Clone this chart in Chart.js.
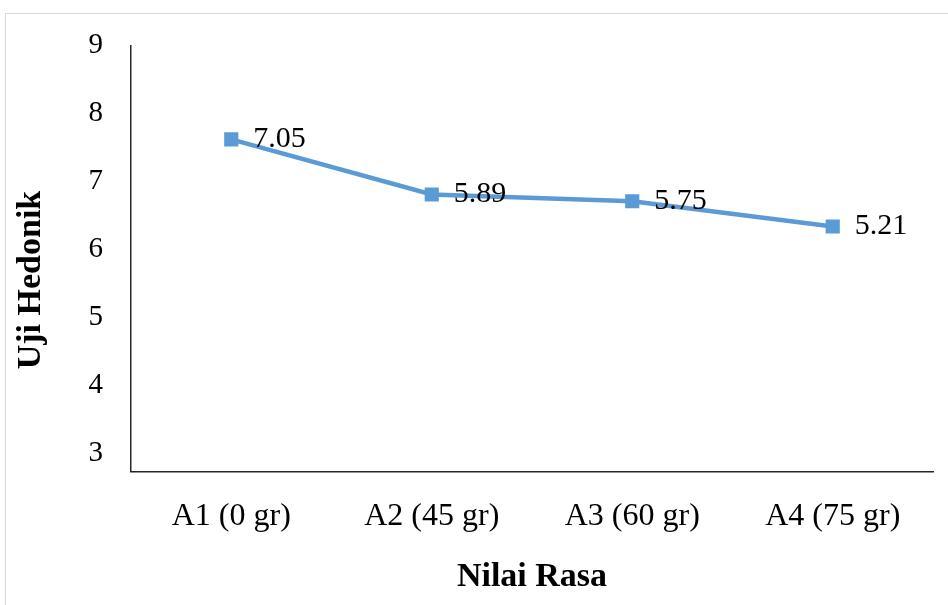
<!DOCTYPE html>
<html>
<head>
<meta charset="utf-8">
<script src="https://cdn.jsdelivr.net/npm/chart.js@4.4.0/dist/chart.umd.min.js"></script>
<style>
  html, body { margin: 0; padding: 0; background: #fff; overflow: hidden; }
  #frame {
    position: absolute; left: 5px; top: 13px; width: 960px; height: 620px;
    border: 1px solid #d9d9d9; box-sizing: border-box;
  }
  #wrap { position: absolute; left: 0; top: 0; width: 948px; height: 605px; }
</style>
</head>
<body>
<div id="frame"></div>
<div id="wrap"><canvas id="chart"></canvas></div>
<script>
// Values
const categories = ['A1 (0 gr)', 'A2 (45 gr)', 'A3 (60 gr)', 'A4 (75 gr)'];
const plottedValues = [7.62, 6.81, 6.71, 6.34];   // where the markers sit
const labelTexts = ['7.05', '5.89', '5.75', '5.21']; // text printed next to them
const yTicks = [3, 4, 5, 6, 7, 8, 9];
const yTitle = 'Uji Hedonik';

const serif = "'Times New Roman', 'Liberation Serif', serif";

// Value labels to the right of each marker, plus the y title
// (Excel centres it a bit lower than the plot area, so it is drawn by hand)
const extraText = {
    id: 'extraText',
    afterDatasetsDraw(chart) {
        const ctx = chart.ctx;
        const meta = chart.getDatasetMeta(0);
        ctx.save();
        ctx.font = '30px ' + serif;
        ctx.fillStyle = '#000';
        ctx.textAlign = 'left';
        ctx.textBaseline = 'middle';
        meta.data.forEach((pt, i) => {
            ctx.fillText(labelTexts[i], pt.x + 22, pt.y);
        });

        ctx.translate(31, 280);
        ctx.rotate(-Math.PI / 2);
        ctx.textAlign = 'center';
        ctx.font = 'bold 34px ' + serif;
        ctx.fillText(yTitle, 0, 0);
        ctx.restore();
    }
};

new Chart(document.getElementById('chart').getContext('2d'), {
    type: 'line',
    data: {
        labels: categories,
        datasets: [{
            data: plottedValues,
            borderColor: '#5b9bd5',
            backgroundColor: '#5b9bd5',
            borderWidth: 4.5,
            pointStyle: 'rect',
            pointRadius: 10,
            pointBorderWidth: 0,
            tension: 0
        }]
    },
    options: {
        responsive: true,
        maintainAspectRatio: false,
        animation: false,
        layout: { padding: { top: 45, right: 15, left: 0, bottom: 0 } },
        plugins: {
            legend: { display: false },
            tooltip: { enabled: false }
        },
        scales: {
            x: {
                offset: true,
                grid: { display: false, drawTicks: false, offset: true },
                border: { display: true, color: '#262626', width: 1.5 },
                ticks: { color: '#000', font: { family: serif, size: 32 }, padding: 26, maxRotation: 0 },
                title: { display: true, text: 'Nilai Rasa', color: '#000',
                         font: { family: serif, size: 34, weight: 'bold' }, padding: { top: 0, bottom: 7 } },
                afterFit(scale) { scale.height = 133.5; }
            },
            y: {
                min: 2.74,
                max: 9,
                grid: { display: false, drawTicks: false },
                border: { display: true, color: '#262626', width: 1.5 },
                ticks: { color: '#000', font: { family: serif, size: 29 }, padding: 28 },
                afterBuildTicks(scale) { scale.ticks = yTicks.map(v => ({ value: v })); },
                afterFit(scale) { scale.width = 131; }
            }
        }
    },
    plugins: [extraText]
});
</script>
</body>
</html>
